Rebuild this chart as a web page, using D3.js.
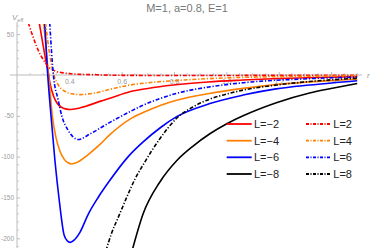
<!DOCTYPE html>
<html>
<head>
<meta charset="utf-8">
<script src="https://cdnjs.cloudflare.com/ajax/libs/d3/7.8.5/d3.min.js"></script>
<style>
  body { margin: 0; background: #fff; }
  svg { display: block; font-family: "Liberation Sans", Arial, sans-serif; }
  .axis path, .axis line { stroke: #bbb; }
  .axis text { fill: #999; font-size: 7px; }
</style>
</head>
<body>
<div id="chart"></div>
<script>
// values: r positions and Veff for each L
var labels = ["L=-2", "L=-4", "L=-6", "L=-8", "L=2", "L=4", "L=6", "L=8"];
var colors = ["#ff0000", "#ff8000", "#0000ff", "#000000", "#ff0000", "#ff8000", "#0000ff", "#000000"];

var r_m2 = [0.285, 0.30, 0.31, 0.32, 0.326, 0.34, 0.352, 0.37, 0.385, 0.405, 0.43, 0.47, 0.52, 0.555, 0.631, 0.70, 0.797, 0.93, 1.063, 1.2, 1.35, 1.5];
var v_m2 = [64, 36, 18, 2, -10, -26, -34, -39.5, -41.5, -42.2, -41, -37.5, -32, -28.5, -20.5, -16.5, -12.3, -8.5, -6.2, -4.3, -3, -2];

var r_m4 = [0.302, 0.31, 0.317, 0.325, 0.335, 0.35, 0.365, 0.38, 0.395, 0.41, 0.43, 0.47, 0.517, 0.555, 0.632, 0.682, 0.75, 0.81, 0.93, 1.064, 1.2, 1.35, 1.5];
var v_m4 = [64, 35, 12, -15, -50, -78, -94, -103, -107.5, -109, -107, -98, -85, -73, -54, -46, -37, -31, -23, -16.4, -11.5, -7.8, -5];

var r_m6 = [0.306, 0.317, 0.33, 0.345, 0.362, 0.38, 0.392, 0.403, 0.415, 0.44, 0.473, 0.51, 0.555, 0.625, 0.682, 0.75, 0.81, 0.937, 1.064, 1.19, 1.318, 1.5];
var v_m6 = [64, 2, -50, -105, -155, -196, -203, -205, -203, -193, -170, -150, -129, -100, -82, -64, -51, -35, -24.6, -17, -12.3, -7];

var r_m8 = [0.64, 0.682, 0.746, 0.81, 0.873, 0.937, 1.0, 1.064, 1.191, 1.318, 1.41, 1.5];
var v_m8 = [-215, -170, -131, -105, -87, -72, -60, -50, -34, -22, -16, -10.5];

var r_p2 = [0.243, 0.26, 0.28, 0.30, 0.32, 0.345, 0.38, 0.42, 0.5, 0.6, 0.8, 1.1, 1.5];
var v_p2 = [64, 48, 31, 19, 10, 5, 2.5, 1.2, 0.3, -0.4, -0.6, -0.5, -0.3];

var r_p4 = [0.309, 0.325, 0.341, 0.358, 0.383, 0.41, 0.44, 0.5, 0.555, 0.631, 0.7, 0.797, 0.93, 1.064, 1.25, 1.5];
var v_p4 = [64, 25, 0, -12.3, -20, -23, -24, -22, -17.6, -12.3, -9.5, -7, -4.5, -2.9, -1.8, -1];

var r_p6 = [0.325, 0.339, 0.357, 0.371, 0.396, 0.434, 0.48, 0.555, 0.631, 0.682, 0.81, 0.937, 1.064, 1.318, 1.5];
var v_p6 = [64, 0, -30, -50, -68, -79, -72, -58, -45, -37, -22.5, -14.5, -9.5, -4.5, -2.5];

var r_p8 = [0.54, 0.56, 0.59, 0.619, 0.65, 0.682, 0.746, 0.81, 0.873, 0.937, 1.0, 1.064, 1.191, 1.318, 1.5];
var v_p8 = [-215, -195, -172, -150, -128, -110, -78, -53, -39, -29.5, -23.5, -18.5, -12.3, -8, -4];

var rs = [r_m2, r_m4, r_m6, r_m8, r_p2, r_p4, r_p6, r_p8];
var vs = [v_m2, v_m4, v_m6, v_m8, v_p2, v_p4, v_p6, v_p8];

var xMajor = [0.4, 0.6, 0.8, 1.0, 1.2, 1.4];
var yMajor = [50, -50, -100, -150, -200];

var width = 374, height = 248;

var svg = d3.select("#chart").append("svg")
    .attr("width", width)
    .attr("height", height);

var x = d3.scaleLinear().domain([0.2, 1.5]).range([17, 357.2]);
var y = d3.scaleLinear().domain([0, -200]).range([75, 238.3]);

// minor ticks
var xMinor = d3.range(0.2, 1.501, 0.05).filter(function(d) {
  return xMajor.every(function(m) { return Math.abs(m - d) > 1e-6; }) && d > 0.21;
});
var yMinor = d3.range(-210, 61, 10).filter(function(d) { return d % 50 != 0; });

svg.append("g").selectAll("line")
    .data(xMinor)
    .enter().append("line")
    .attr("x1", function(d) { return x(d); })
    .attr("x2", function(d) { return x(d); })
    .attr("y1", y(0)).attr("y2", y(0) - 2)
    .attr("stroke", "#ccc");

svg.append("g").selectAll("line")
    .data(yMinor)
    .enter().append("line")
    .attr("y1", function(d) { return y(d); })
    .attr("y2", function(d) { return y(d); })
    .attr("x1", x(0.2)).attr("x2", x(0.2) + 2)
    .attr("stroke", "#ccc");

var xAxis = svg.append("g")
    .attr("class", "axis")
    .attr("transform", "translate(0," + y(0) + ")")
    .call(d3.axisBottom(x).tickValues(xMajor).tickFormat(d3.format(".1f"))
      .tickSizeInner(-3).tickSizeOuter(0).tickPadding(4));
xAxis.select(".domain").attr("d", "M10,0H362");

var yAxis = svg.append("g")
    .attr("class", "axis")
    .attr("transform", "translate(" + x(0.2) + ",0)")
    .call(d3.axisLeft(y).tickValues(yMajor).tickFormat(function(d) { return String(d); })
      .tickSizeInner(-3).tickSizeOuter(0).tickPadding(3));
yAxis.selectAll("text").style("font-size", "6.5px");
yAxis.select(".domain").attr("d", "M0,22V248");

// axis labels
var vl = svg.append("text")
    .attr("x", 12).attr("y", 20)
    .attr("fill", "#999")
    .style("font-size", "8px");
vl.append("tspan").style("font-style", "italic").text("V");
vl.append("tspan").attr("dy", 2).style("font-size", "5.5px").text("eff");

svg.append("text")
    .attr("x", 367).attr("y", 78)
    .attr("fill", "#999")
    .style("font-size", "8px")
    .style("font-style", "italic")
    .text("r");

svg.append("text")
    .attr("x", 187).attr("y", 11.5)
    .attr("text-anchor", "middle")
    .attr("fill", "#777")
    .style("font-size", "11px")
    .text("M=1, a=0.8, E=1");

// curves
svg.append("clipPath").attr("id", "clip")
  .append("rect")
    .attr("x", 10).attr("y", 24)
    .attr("width", 352).attr("height", 224);

var line = d3.line()
    .x(function(d) { return x(d[0]); })
    .y(function(d) { return y(d[1]); })
    .curve(d3.curveMonotoneX);

var series = labels.map(function(l, i) {
  return { label: l, color: colors[i], dashed: i >= 4, pts: d3.zip(rs[i], vs[i]) };
});

svg.append("g")
    .attr("clip-path", "url(#clip)")
  .selectAll("path")
  .data(series)
  .enter().append("path")
    .attr("d", function(d) { return line(d.pts); })
    .attr("fill", "none")
    .attr("stroke", function(d) { return d.color; })
    .attr("stroke-width", 1.6)
    .attr("stroke-dasharray", function(d) { return d.dashed ? "4,1.8,1.2,1.8" : null; });

// legend
var legRows = [124, 140.7, 157.3, 174];
var leg = svg.append("g").selectAll("g")
    .data(series)
    .enter().append("g")
    .attr("transform", function(d, i) {
      return "translate(" + (i < 4 ? 226.7 : 306) + "," + legRows[i % 4] + ")";
    });

leg.append("line")
    .attr("x1", 0).attr("x2", 25)
    .attr("stroke", function(d) { return d.color; })
    .attr("stroke-width", 1.8)
    .attr("stroke-dasharray", function(d) { return d.dashed ? "3,1.5,1,1.5" : null; });

leg.append("text")
    .attr("x", 27.3).attr("y", 4)
    .attr("fill", "#222")
    .style("font-size", "11px")
    .text(function(d) { return d.label.replace("-", "\u2212"); });
</script>
</body>
</html>
